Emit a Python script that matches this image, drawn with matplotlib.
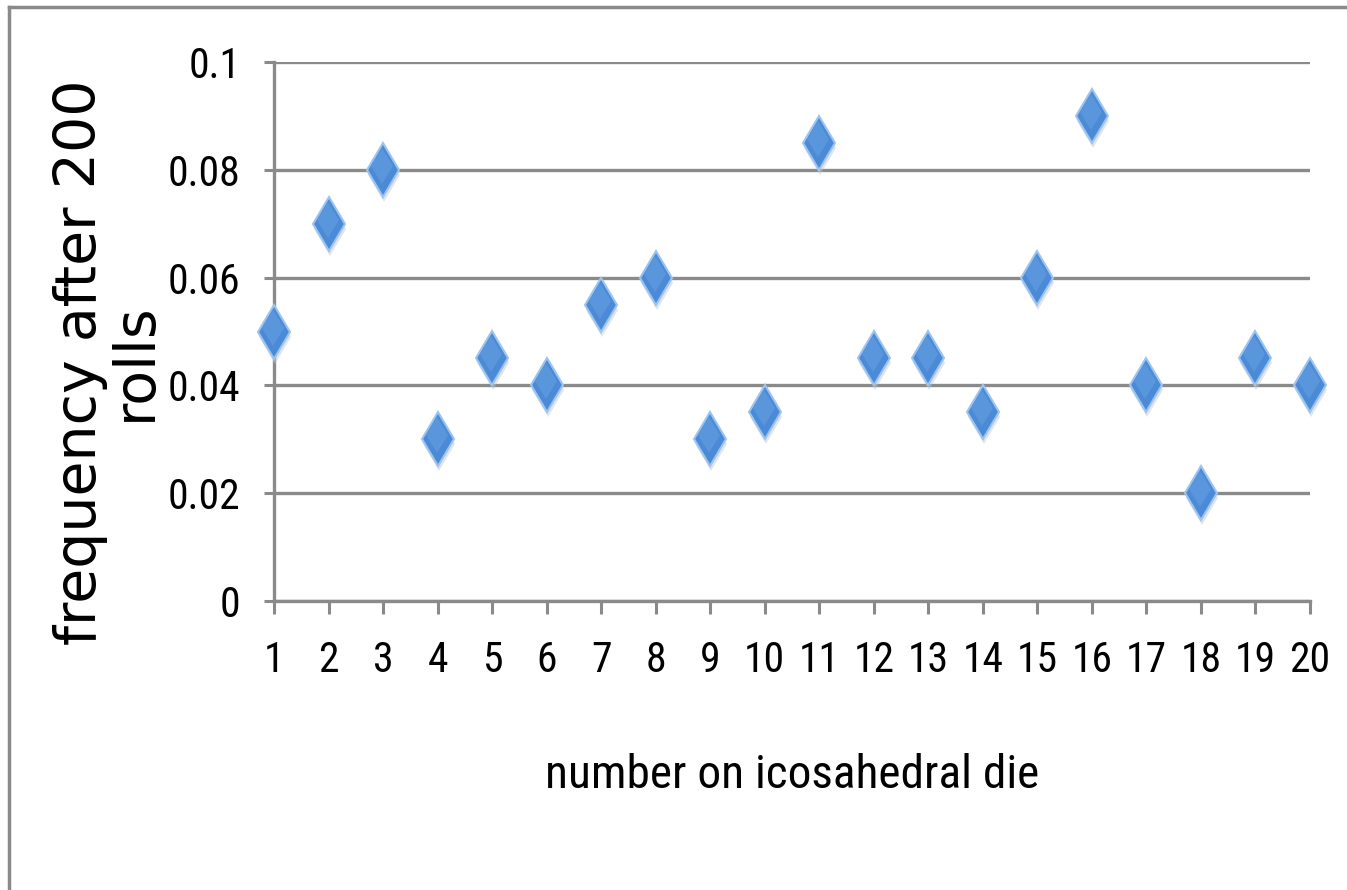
import matplotlib
matplotlib.use("Agg")
import matplotlib.pyplot as plt
import matplotlib.transforms as mtransforms
from matplotlib.lines import Line2D

# Die face and relative frequency after 200 rolls
faces = list(range(1, 21))
freq = [0.05, 0.07, 0.08, 0.03, 0.045, 0.04, 0.055, 0.06, 0.03, 0.035,
        0.085, 0.045, 0.045, 0.035, 0.06, 0.09, 0.04, 0.02, 0.045, 0.04]

y_ticks = [0, 0.02, 0.04, 0.06, 0.08, 0.1]
y_tick_labels = ["0", "0.02", "0.04", "0.06", "0.08", "0.1"]

narrow = ["Roboto Condensed", "DejaVu Sans"]
grey = "#8a8a8a"

fig = plt.figure(figsize=(13.47, 8.90), dpi=100, facecolor="white")
ax = fig.add_axes([274 / 1347, 1 - 601 / 890, 1036 / 1347, 539 / 890])

# Outer chart border (only top and left edges visible)
fig.add_artist(Line2D([9 / 1347, 9 / 1347], [0, 1 - 7 / 890],
                      transform=fig.transFigure, color=grey, lw=2.5))
fig.add_artist(Line2D([9 / 1347, 1], [1 - 7 / 890, 1 - 7 / 890],
                      transform=fig.transFigure, color=grey, lw=2.5))

# Soft shadow under each marker
shadow = mtransforms.offset_copy(ax.transData, fig=fig, x=1, y=-5, units="dots")
ax.plot(faces, freq, linestyle="none", marker="d", markersize=28,
        color="#c4c4c4", alpha=0.45, markeredgewidth=0,
        transform=shadow, clip_on=False, zorder=3)

ax.plot(faces, freq, linestyle="none", marker="d", markersize=27,
        markerfacecolor="#4b8ad6", markeredgecolor="#9cc4f0",
        markeredgewidth=1.5, clip_on=False, zorder=4)

# Lighter upper part of the markers
hl = mtransforms.offset_copy(ax.transData, fig=fig, x=-1, y=4, units="dots")
ax.plot(faces, freq, linestyle="none", marker="d", markersize=18,
        markerfacecolor="#78aee9", markeredgewidth=0, alpha=0.35,
        transform=hl, clip_on=False, zorder=5)

ax.set_xlim(1, 20)
ax.set_ylim(0, 0.1)

ax.set_xticks(faces)
ax.set_xticklabels([str(f) for f in faces], family=narrow,
                   stretch="condensed", fontsize=30)
ax.set_yticks(y_ticks)
ax.set_yticklabels(y_tick_labels, family=narrow,
                   stretch="condensed", fontsize=30)

ax.tick_params(axis="x", direction="out", length=9, width=2.2,
               color=grey, pad=19)
ax.tick_params(axis="y", direction="out", length=7, width=2.2,
               color=grey, pad=17)

# Horizontal gridlines
ax.grid(True, axis="y", color=grey, linewidth=2.4, zorder=0)
ax.set_axisbelow(True)

for side in ["top", "right"]:
    ax.spines[side].set_visible(False)
for side in ["left", "bottom"]:
    ax.spines[side].set_color(grey)
    ax.spines[side].set_linewidth(2.4)

# Axis titles
fig.text(792 / 1347, 1 - 775 / 890, "number on icosahedral die",
         family=narrow, stretch="condensed", fontsize=34,
         ha="center", va="center")
fig.text(108 / 1347, 1 - 362 / 890, "frequency after 200\nrolls",
         family="DejaVu Sans", fontsize=41, rotation=90,
         ha="center", va="center", multialignment="center",
         linespacing=0.98)

fig.savefig("out.png", dpi=100, facecolor="white")
